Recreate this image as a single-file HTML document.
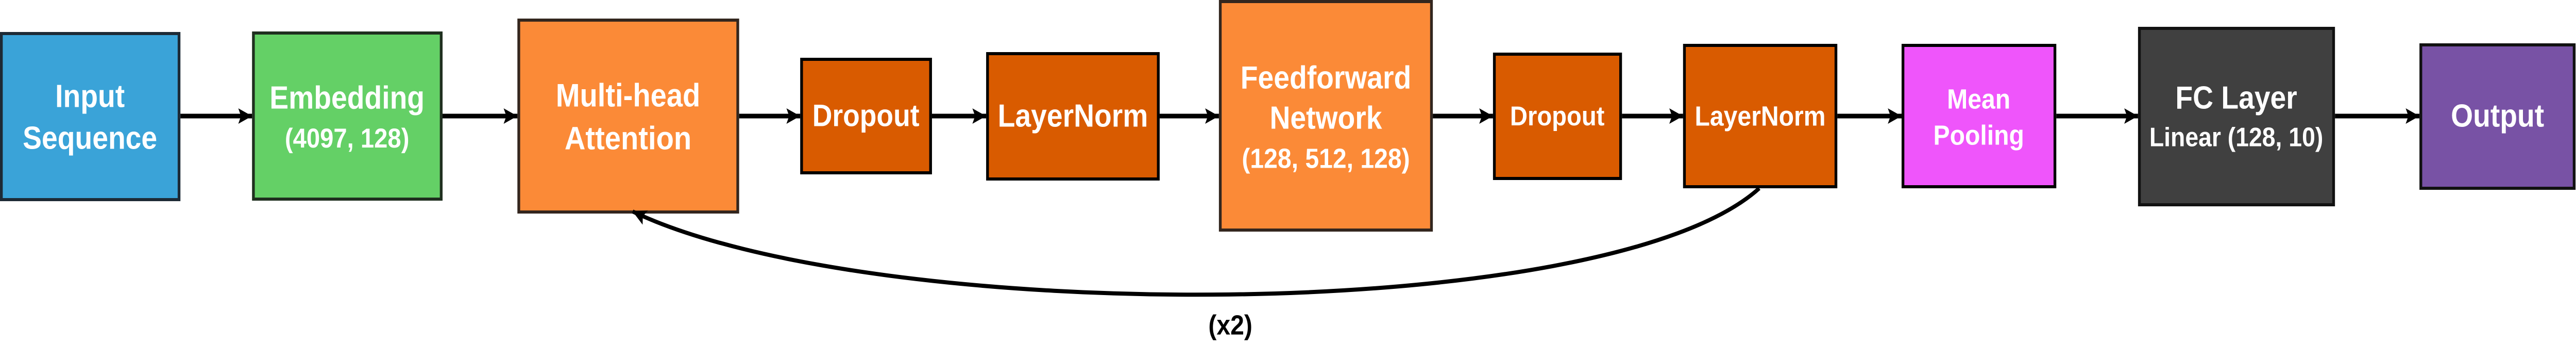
<!DOCTYPE html>
<html><head><meta charset="utf-8"><style>
html,body{margin:0;padding:0;width:100%;height:100%;overflow:hidden;background:#fff;}
svg{display:block;width:100vw;height:100vh;}
text{font-family:"Liberation Sans",Arial,sans-serif;font-weight:bold;text-anchor:middle;dominant-baseline:central;}
</style></head><body>
<svg viewBox="0 0 5611 663" preserveAspectRatio="none">
<defs>
<marker id="a" markerUnits="userSpaceOnUse" markerWidth="34" markerHeight="34" refX="30" refY="15" orient="auto"><path d="M0,0 L30,15 L0,30 L6,15 Z" fill="#000"/></marker>
</defs>
<g stroke-width="6">
<rect x="3" y="65" width="387" height="322" fill="#3aa3d8" stroke="#1d2a35"/>
<rect x="552" y="64" width="409" height="322" fill="#64d066" stroke="#1f2f1f"/>
<rect x="1130" y="39" width="477" height="372" fill="#fb8a37" stroke="#33261e"/>
<rect x="1746" y="115" width="281" height="220" fill="#d95b00" stroke="#000"/>
<rect x="2151" y="104" width="372" height="243" fill="#d95b00" stroke="#000"/>
<rect x="2658" y="3" width="460" height="443" fill="#fb8a37" stroke="#33261e"/>
<rect x="3255" y="105" width="275" height="241" fill="#d95b00" stroke="#000"/>
<rect x="3669" y="88" width="330" height="274" fill="#d95b00" stroke="#000"/>
<rect x="4145" y="88" width="331" height="274" fill="#ef55fb" stroke="#000"/>
<rect x="4660" y="55" width="423" height="342" fill="#404040" stroke="#111"/>
<rect x="5273" y="87" width="334" height="278" fill="#7852a5" stroke="#111"/>
</g>
<g fill="#fff">
<text x="196" y="187" font-size="62">Input</text>
<text x="196" y="268" font-size="62">Sequence</text>
<text x="756" y="190" font-size="62">Embedding</text>
<text x="756" y="268" font-size="53">(4097, 128)</text>
<text x="1368" y="185" font-size="63">Multi-head</text>
<text x="1368" y="268" font-size="63">Attention</text>
<text x="1886" y="225" font-size="60">Dropout</text>
<text x="2337" y="225" font-size="62">LayerNorm</text>
<text x="2888" y="151" font-size="62">Feedforward</text>
<text x="2888" y="229" font-size="62">Network</text>
<text x="2888" y="307" font-size="54">(128, 512, 128)</text>
<text x="3392" y="225" font-size="53">Dropout</text>
<text x="3834" y="225" font-size="54">LayerNorm</text>
<text x="4310" y="192" font-size="54">Mean</text>
<text x="4310" y="262" font-size="54">Pooling</text>
<text x="4871" y="190" font-size="62">FC Layer</text>
<text x="4871" y="266" font-size="52">Linear (128, 10)</text>
<text x="5440" y="225" font-size="62">Output</text>
</g>
<g stroke="#000" stroke-width="9" fill="none">
<line x1="393" y1="225" x2="549" y2="225" marker-end="url(#a)"/>
<line x1="964" y1="225" x2="1127" y2="225" marker-end="url(#a)"/>
<line x1="1610" y1="225" x2="1743" y2="225" marker-end="url(#a)"/>
<line x1="2030" y1="225" x2="2148" y2="225" marker-end="url(#a)"/>
<line x1="2526" y1="225" x2="2655" y2="225" marker-end="url(#a)"/>
<line x1="3121" y1="225" x2="3252" y2="225" marker-end="url(#a)"/>
<line x1="3533" y1="225" x2="3666" y2="225" marker-end="url(#a)"/>
<line x1="4002" y1="225" x2="4142" y2="225" marker-end="url(#a)"/>
<line x1="4479" y1="225" x2="4657" y2="225" marker-end="url(#a)"/>
<line x1="5086" y1="225" x2="5270" y2="225" marker-end="url(#a)"/>
<path d="M3832,365 C3500,632 1900,632 1378,410" stroke-width="8" marker-end="url(#a)"/>
</g>
<text x="2680" y="630" font-size="54" fill="#000">(x2)</text>
</svg>
</body></html>
